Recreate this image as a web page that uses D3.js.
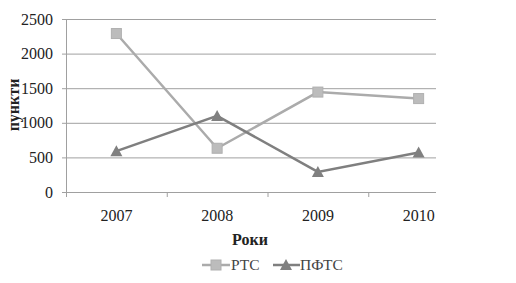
<!DOCTYPE html>
<html><head><meta charset="utf-8">
<script src="https://cdn.jsdelivr.net/npm/d3@7"></script>
<style>
body{margin:0;background:#fff}
#wrap{position:relative;width:516px;height:283px}
svg{display:block;position:absolute;left:0;top:0}
.t{position:absolute;font-family:"Liberation Serif","Times New Roman",serif;line-height:1;white-space:nowrap;color:#222}
</style>
</head><body>
<div id="wrap"><svg id="c" width="516" height="283"></svg></div>
<script>
const years = ["2007","2008","2009","2010"];
const rts = [2290, 632, 1444, 1350];
const pfts = [590, 1100, 290, 570];
const yTicks = [0,500,1000,1500,2000,2500];

const wrap = d3.select("#wrap");
const svg = d3.select("#c");
const x = d3.scaleBand().domain(years).range([66, 469]);
const y = d3.scaleLinear().domain([0,2500]).range([192, 19]);
const right = 436;

function label(txt, px, cy, opts={}) {
  const tx = opts.anchor==="end" ? "-100%" : opts.anchor==="start" ? "0" : "-50%";
  return wrap.append("div").attr("class","t")
    .style("left",px+"px").style("top",cy+"px")
    .style("font-size",(opts.size||16)+"px")
    .style("font-weight",opts.bold?"bold":"normal")
    .style("color",opts.color||"#222")
    .style("transform",`translate(${tx},-50%)` + (opts.rotate?` rotate(${opts.rotate}deg)`:""))
    .text(txt);
}

svg.selectAll("line.g").data(yTicks.slice(1)).join("line")
  .attr("x1",66).attr("x2",right).attr("y1",d=>y(d)+0.5).attr("y2",d=>y(d)+0.5)
  .attr("stroke","#a0a0a0").attr("stroke-width",1);
svg.append("line").attr("x1",66.5).attr("x2",66.5).attr("y1",y(2500)).attr("y2",y(0)).attr("stroke","#a0a0a0");
svg.selectAll("line.yt").data(yTicks).join("line")
  .attr("x1",62).attr("x2",66).attr("y1",d=>y(d)+0.5).attr("y2",d=>y(d)+0.5).attr("stroke","#a0a0a0");
yTicks.forEach(d=>label(String(d), 53, y(d)+0.5, {anchor:"end"}));

svg.append("line").attr("x1",62).attr("x2",right).attr("y1",y(0)+0.5).attr("y2",y(0)+0.5).attr("stroke","#a0a0a0");
svg.selectAll("line.xt").data(years).join("line")
  .attr("x1",d=>x(d)+0.5).attr("x2",d=>x(d)+0.5).attr("y1",y(0)).attr("y2",y(0)+5).attr("stroke","#a0a0a0");
years.forEach(d=>label(d, x(d)+x.bandwidth()/2, 216));

label("Роки", 250, 240, {bold:true});
label("пункти", 14, 105, {bold:true, rotate:-90});

const cx = d => x(d)+x.bandwidth()/2;
const line = d3.line().x((d,i)=>cx(years[i])).y(d=>y(d));
svg.append("path").attr("d",line(rts)).attr("fill","none").attr("stroke","#ababab").attr("stroke-width",2.5);
svg.append("path").attr("d",line(pfts)).attr("fill","none").attr("stroke","#7f7f7f").attr("stroke-width",2.5);

const sq = (g, px, py) => g.append("rect").attr("x",px-5).attr("y",py-5).attr("width",10).attr("height",10).attr("fill","#bcbcbc").attr("stroke","#b0b0b0").attr("stroke-width",1);
const tri = (g, px, py) => g.append("path").attr("d",`M${px},${py-6}L${px+6},${py+5}L${px-6},${py+5}Z`).attr("fill","#808080");
rts.forEach((v,i)=>sq(svg, cx(years[i]), y(v)));
pfts.forEach((v,i)=>tri(svg, cx(years[i]), y(v)));

const ly = 265;
svg.append("line").attr("x1",202).attr("x2",230).attr("y1",ly).attr("y2",ly).attr("stroke","#ababab").attr("stroke-width",2.5);
sq(svg,216,ly);
label("РТС", 231, ly, {anchor:"start", size:15.5, color:"#444"});
svg.append("line").attr("x1",273).attr("x2",300).attr("y1",ly).attr("y2",ly).attr("stroke","#7f7f7f").attr("stroke-width",2.5);
tri(svg,286,ly);
label("ПФТС", 300, ly, {anchor:"start", size:15.5, color:"#444"});
</script>
</body></html>
